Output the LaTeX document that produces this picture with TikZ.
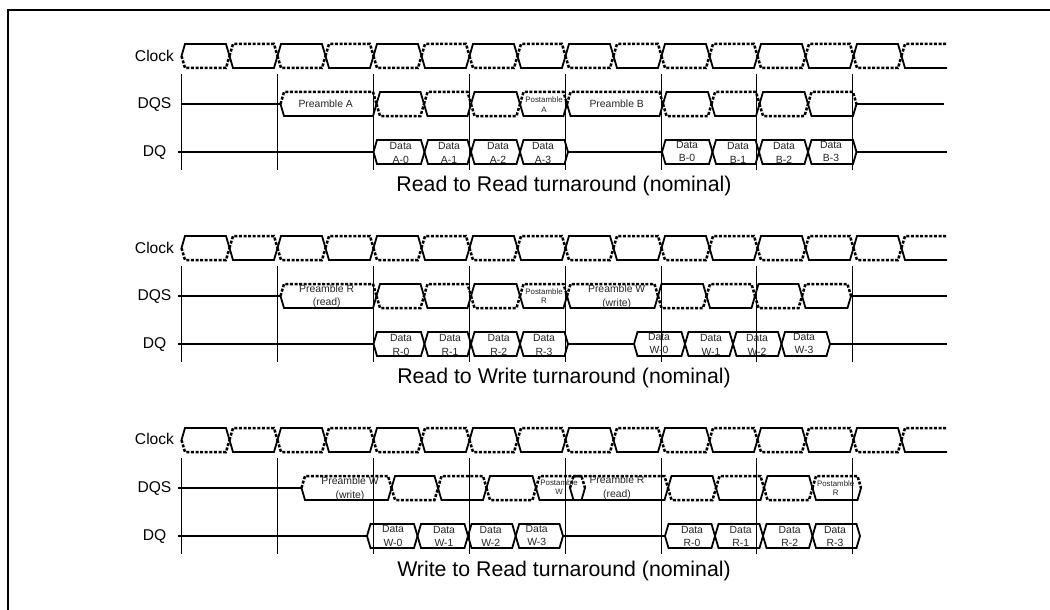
\documentclass[tikz,border=0pt]{standalone}
\usepackage{fontspec}
\setmainfont{Liberation Sans}
\tikzset{
  sl/.style={line width=1.8pt,line join=miter,black},
  flat/.style={line width=1.5pt,black},
  ds/.style={line width=2.5pt,black,dash pattern=on 3pt off 1.6pt},
  vmark/.style={line width=0.9pt,black},
  framel/.style={line width=2pt,black},
  sig/.style={inner sep=0pt,font=\fontsize{15.6}{18}\selectfont},
  captxt/.style={inner sep=0pt,font=\fontsize{21.3}{26}\selectfont},
  dat/.style={inner sep=0pt,align=center,text=black!85,font=\fontsize{10.4}{13.5}\selectfont},
  posttxt/.style={inner sep=0pt,align=center,text=black!85,font=\fontsize{7.9}{9.5}\selectfont},
}
\def\hd{3.5}
% one bus segment between two crossing points: top style, bottom style
\newcommand{\wseg}[5]{%
  \draw[#4] (#1,#3) -- (#1+\hd,#3-12) -- (#2-\hd,#3-12) -- (#2,#3);
  \draw[#5] (#1,#3) -- (#1+\hd,#3+12) -- (#2-\hd,#3+12) -- (#2,#3);
}
\newcommand{\clockrow}{%
  \foreach \k in {0,2,...,14}{\wseg{181.5+48*\k}{181.5+48*\k+48}{56}{sl}{ds}}
  \foreach \k in {1,3,...,13}{\wseg{181.5+48*\k}{181.5+48*\k+48}{56}{ds}{sl}}
  \draw[ds] (901.5,56) -- (905,44) -- (947,44);
  \draw[sl] (901.5,56) -- (905,68) -- (947,68);
  \foreach \k in {0,...,7}{\draw[vmark] (181.5+95.9*\k,74) -- (181.5+95.9*\k,170);}
}
\newcommand{\dlab}[5]{\node[dat] (#1) at (#2,#3) {#4\\#5};}
\newcommand{\plab}[5]{\node[posttxt] (#1) at (#2,#3) {#4\\#5};}
\begin{document}
\begin{tikzpicture}[x=1pt,y=-1pt]
\useasboundingbox (0,0) rectangle (1050,610);
\fill[white] (0,0) rectangle (1050,610);
\draw[framel] (7.5,610) -- (7.5,10) -- (1050,10);

% ===== panel 1
\begin{scope}
\clockrow
\node[sig] (c1) at (154.5,55.7) {Clock};
\node[sig] (s1) at (154.5,105) {DQS};
\node[sig] (q1) at (154.5,152.7) {DQ};
\draw[flat] (182,104) -- (280.5,104);
\wseg{280.5}{376.5}{104}{ds}{sl}
\wseg{376.5}{424}{104}{sl}{ds}
\wseg{424}{471}{104}{ds}{sl}
\wseg{471}{520}{104}{sl}{ds}
\wseg{520}{567}{104}{ds}{sl}
\wseg{567}{663}{104}{ds}{sl}
\wseg{663}{711.5}{104}{sl}{ds}
\wseg{711.5}{759.5}{104}{ds}{sl}
\wseg{759.5}{808}{104}{sl}{ds}
\wseg{808}{856.5}{104}{ds}{sl}
\draw[flat] (856.5,104) -- (944,104);
\draw[flat] (178,152) -- (373.5,152);
\wseg{373.5}{424.5}{152}{sl}{sl}
\wseg{424.5}{471}{152}{sl}{sl}
\wseg{471}{520}{152}{sl}{sl}
\wseg{520}{568}{152}{sl}{sl}
\draw[flat] (568,152) -- (662,152);
\wseg{662}{712.5}{152}{sl}{sl}
\wseg{712.5}{759}{152}{sl}{sl}
\wseg{759}{808}{152}{sl}{sl}
\wseg{808}{856.5}{152}{sl}{sl}
\draw[flat] (856.5,152) -- (947,152);
\node[dat] (pa) at (325.7,104) {Preamble A};
\plab{poa}{544}{104.5}{Postamble}{A}
\node[dat] (pb) at (616.7,104) {Preamble B};
\dlab{a0}{400.7}{153}{Data}{A-0}
\dlab{a1}{449}{153}{Data}{A-1}
\dlab{a2}{498}{153}{Data}{A-2}
\dlab{a3}{543}{153}{Data}{A-3}
\dlab{b0}{687}{151.5}{Data}{B-0}
\dlab{b1}{738}{153}{Data}{B-1}
\dlab{b2}{784}{153}{Data}{B-2}
\dlab{b3}{831}{151.5}{Data}{B-3}
\node[captxt] (t1) at (564,186) {Read to Read turnaround (nominal)};
\end{scope}

% ===== panel 2
\begin{scope}[shift={(0,192)}]
\clockrow
\node[sig] (c2) at (154.5,55.7) {Clock};
\node[sig] (s2) at (154.5,104.7) {DQS};
\node[sig] (q2) at (154.5,152.7) {DQ};
\draw[flat] (178,104) -- (280.5,104);
\wseg{280.5}{376.5}{104}{ds}{sl}
\wseg{376.5}{424}{104}{sl}{ds}
\wseg{424}{471}{104}{ds}{sl}
\wseg{471}{520}{104}{sl}{ds}
\wseg{520}{567}{104}{ds}{sl}
\wseg{567}{658}{104}{ds}{sl}
\wseg{658}{706.5}{104}{sl}{ds}
\wseg{706.5}{755}{104}{ds}{sl}
\wseg{755}{802}{104}{sl}{ds}
\wseg{802}{851}{104}{ds}{sl}
\draw[flat] (851,104) -- (947,104);
\draw[flat] (178,152) -- (373.5,152);
\wseg{373.5}{424.5}{152}{sl}{sl}
\wseg{424.5}{471}{152}{sl}{sl}
\wseg{471}{520}{152}{sl}{sl}
\wseg{520}{568}{152}{sl}{sl}
\draw[flat] (568,152) -- (634,152);
\wseg{634}{685}{152}{sl}{sl}
\wseg{685}{733}{152}{sl}{sl}
\wseg{733}{781.5}{152}{sl}{sl}
\wseg{781.5}{830}{152}{sl}{sl}
\draw[flat] (830,152) -- (947,152);
\dlab{pr}{326.7}{104.3}{Preamble R}{(read)}
\plab{por}{544}{104.2}{Postamble}{R}
\dlab{pw}{616.7}{105}{Preamble W}{(write)}
\dlab{r0}{401}{153}{Data}{R-0}
\dlab{r1}{450}{153}{Data}{R-1}
\dlab{r2}{498.7}{153}{Data}{R-2}
\dlab{r3}{544}{153}{Data}{R-3}
\dlab{w0}{659}{151.5}{Data}{W-0}
\dlab{w1}{711}{153}{Data}{W-1}
\dlab{w2}{757}{153}{Data}{W-2}
\dlab{w3}{804}{151.5}{Data}{W-3}
\node[captxt] (t2) at (564,186) {Read to Write turnaround (nominal)};
\end{scope}

% ===== panel 3
\begin{scope}[shift={(0,384)}]
\clockrow
\node[sig] (c3) at (154.5,55.3) {Clock};
\node[sig] (s3) at (154.5,105) {DQS};
\node[sig] (q3) at (154.5,152.7) {DQ};
\draw[flat] (178,104) -- (301.5,104);
\wseg{301.5}{391.5}{104}{ds}{sl}
\wseg{391.5}{438}{104}{sl}{ds}
\wseg{438}{486.5}{104}{ds}{sl}
\wseg{486.5}{536}{104}{sl}{ds}
\wseg{536}{585}{104}{ds}{sl}
\wseg{570}{668}{104}{ds}{sl}
\wseg{668}{716}{104}{sl}{ds}
\wseg{716}{764}{104}{ds}{sl}
\wseg{764}{812.5}{104}{sl}{ds}
\wseg{812.5}{861}{104}{ds}{sl}
\draw[flat] (178,152) -- (367,152);
\draw[line width=2.2pt] (301.5,152) -- (367,152);
\wseg{367}{417.5}{152}{sl}{sl}
\wseg{417.5}{468}{152}{sl}{sl}
\wseg{468}{515.7}{152}{sl}{sl}
\wseg{515.7}{563}{152}{sl}{sl}
\draw[flat] (563,152) -- (665,152);
\wseg{665}{715}{152}{sl}{sl}
\wseg{715}{763}{152}{sl}{sl}
\wseg{763}{812.5}{152}{sl}{sl}
\wseg{812.5}{860}{152}{sl}{sl}
\dlab{pw3}{350}{105}{Preamble W}{(write)}
\plab{pow}{559}{103}{Postamble}{W}
\dlab{pr3}{617}{103.8}{Preamble R}{(read)}
\plab{por3}{835.7}{104.3}{Postamble}{R}
\dlab{w03}{393}{151.8}{Data}{W-0}
\dlab{w13}{444}{152.5}{Data}{W-1}
\dlab{w23}{490.7}{152.5}{Data}{W-2}
\dlab{w33}{536.7}{151.5}{Data}{W-3}
\dlab{r03}{692}{152.5}{Data}{R-0}
\dlab{r13}{740.7}{152.5}{Data}{R-1}
\dlab{r23}{789.7}{152.5}{Data}{R-2}
\dlab{r33}{835}{152.5}{Data}{R-3}
\node[captxt] (t3) at (564,187) {Write to Read turnaround (nominal)};
\end{scope}
\end{tikzpicture}
\end{document}
